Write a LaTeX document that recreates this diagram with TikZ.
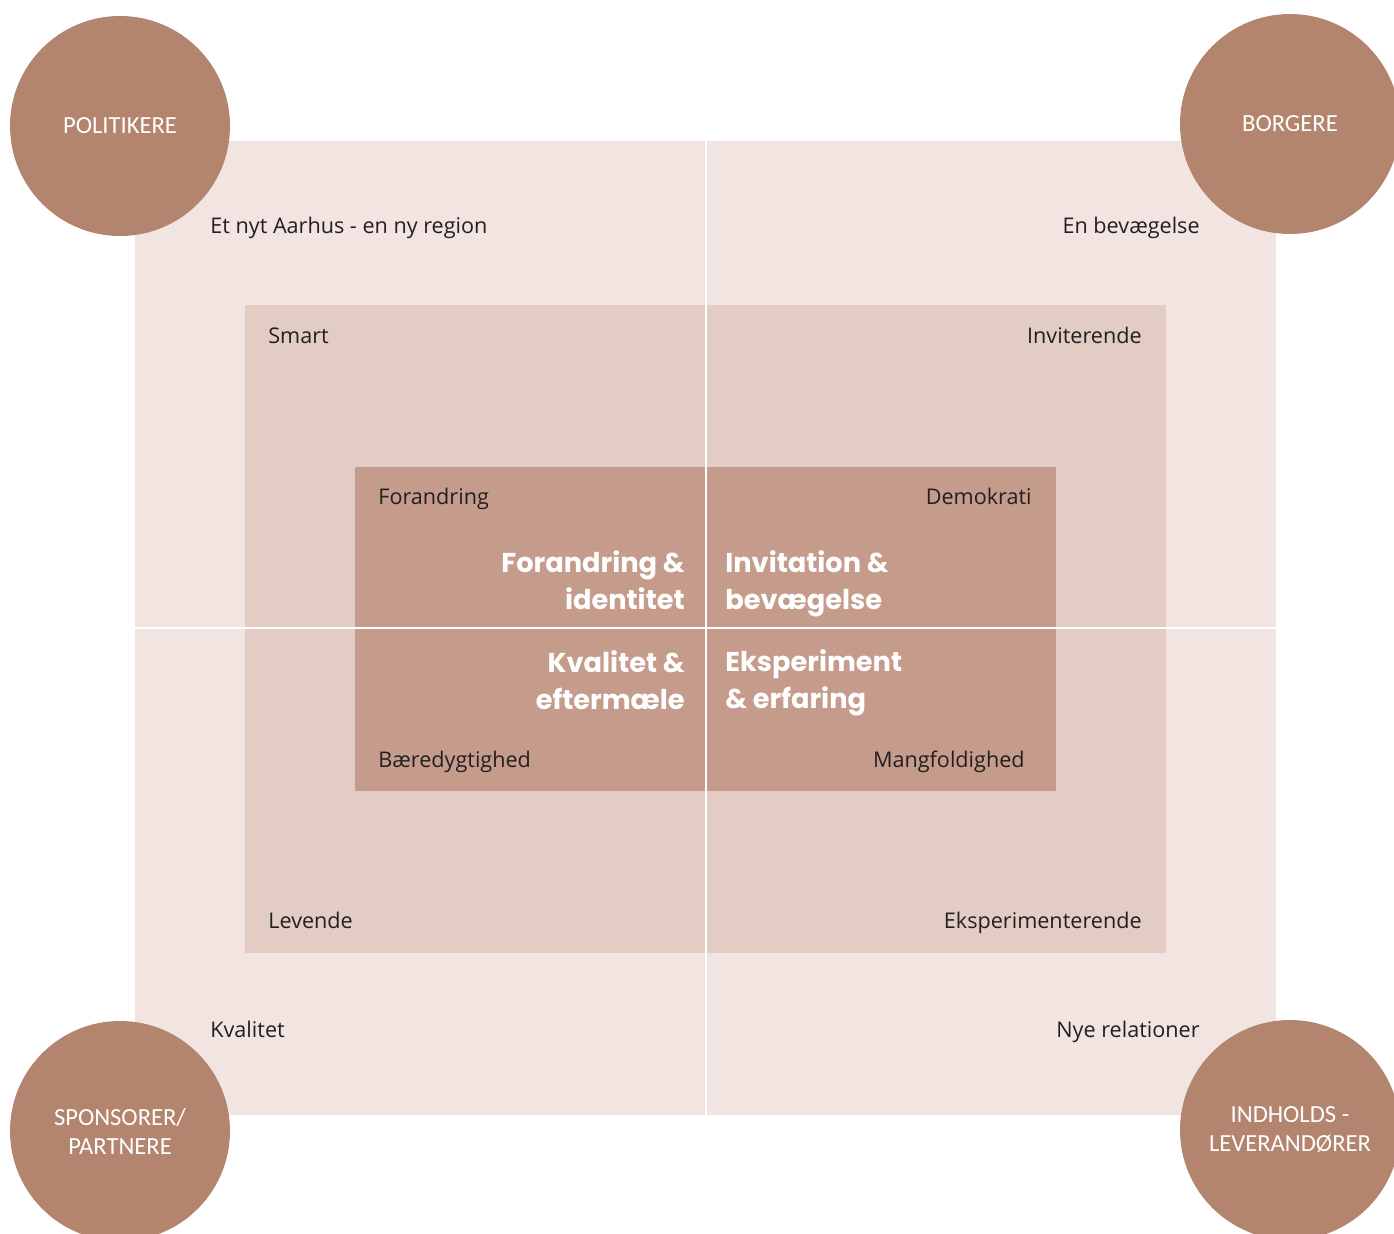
\documentclass[tikz,border=0pt]{standalone}
\usepackage{fontspec}
\setmainfont{Open Sans}
\newfontfamily\circfont{Carlito}
\newfontfamily\themefont{Poppins}

\definecolor{outerpink}{HTML}{F2E4E0}
\definecolor{midpink}{HTML}{E3CCC4}
\definecolor{innerpink}{HTML}{C59C8B}
\definecolor{circbrown}{HTML}{B3846E}
\definecolor{labelgray}{HTML}{231F20}

\begin{document}
\begin{tikzpicture}[x=0.02cm, y=-0.02cm,
    label/.style={text=labelgray, inner sep=0pt, font=\fontsize{12.3}{14}\selectfont},
    theme/.style={text=white, inner sep=0pt, font=\themefont\fontsize{15.5}{21}\selectfont\bfseries},
    actor/.style={circle, fill=circbrown, minimum size=220*0.02cm, inner sep=0pt,
      text=white, align=center, font=\circfont\fontsize{14}{16.5}\selectfont}]
     \useasboundingbox (0,0) rectangle (1394,1234);
     \clip (0,0) rectangle (1394,1234);

     % nested fields
     \fill[outerpink] (135,141) rectangle (1276,1115);
     \fill[midpink] (245,305) rectangle (1166,953);
     \fill[innerpink] (355,467) rectangle (1056,791);
     \draw[white, line width=0.85pt] (706,141) -- (706,1115);
     \draw[white, line width=0.85pt] (135,628) -- (1276,628);

     % stakeholders
     \node[actor] (politikere) at (120,126) {POLITIKERE};
     \node[actor] (borgere) at (1290,124) {BORGERE};
     \node[actor] (sponsorer) at (120,1131) {SPONSORER/\\PARTNERE};
     \node[actor] (indhold) at (1290,1130) {INDHOLDS -\\LEVERANDØRER};

     % outer ring
     \node[label, anchor=base west] (aarhus) at (210,233) {Et nyt Aarhus - en ny region};
     \node[label, anchor=base east] (bevaeg) at (1200,233) {En bevægelse};
     \node[label, anchor=base west] (kval) at (210,1037) {Kvalitet};
     \node[label, anchor=base east] (relat) at (1200,1037) {Nye relationer};

     % middle ring
     \node[label, anchor=base west] (smart) at (268,343) {Smart};
     \node[label, anchor=base east] (invit) at (1142,343) {Inviterende};
     \node[label, anchor=base west] (levende) at (268,928) {Levende};
     \node[label, anchor=base east] (eksp) at (1142,928) {Eksperimenterende};

     % inner ring
     \node[label, anchor=base west] (forand) at (378,504) {Forandring};
     \node[label, anchor=base east] (demo) at (1032,504) {Demokrati};
     \node[label, anchor=base west] (baered) at (378,767) {Bæredygtighed};
     \node[label, anchor=base east] (mangf) at (1025,767) {Mangfoldighed};

     % themes
     \node[theme, align=right, anchor=east] (identitet) at (685,580) {Forandring \&\\identitet};
     \node[theme, align=left, anchor=west] (bevaegelse) at (725,584) {Invitation \&\\bevægelse};
     \node[theme, align=right, anchor=east] (eftermaele) at (685,680) {Kvalitet \&\\eftermæle};
     \node[theme, align=left, anchor=west] (erfaring) at (725,683) {Eksperiment\\\& erfaring};
\end{tikzpicture}
\end{document}
